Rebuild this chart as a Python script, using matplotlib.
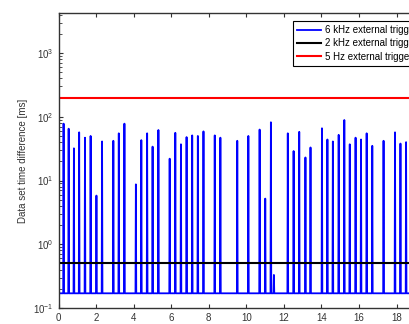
import numpy as np
import matplotlib.pyplot as plt

plt.rcParams['font.family'] = ['Liberation Sans', 'DejaVu Sans']

# spike times [s] and peak heights [ms] of the 6 kHz trace
spike_t = [0.27, 0.54, 0.82, 1.10, 1.41, 1.71, 2.02, 2.32, 2.92, 3.21, 3.51,
           4.12, 4.41, 4.72, 5.01, 5.32, 5.92, 6.22, 6.52, 6.82, 7.12, 7.42,
           7.72, 8.32, 8.62, 9.52, 10.11, 10.71, 11.01, 11.31, 11.47,
           12.21, 12.52, 12.82, 13.15, 13.42, 14.03, 14.32, 14.61, 14.92,
           15.22, 15.51, 15.82, 16.11, 16.41, 16.71, 17.31, 17.92, 18.21, 18.51]
spike_h = [78, 65, 32, 57, 47, 50, 5.8, 41, 42, 55, 78,
           8.7, 43, 55, 34, 62, 22, 56, 37, 48, 51, 50,
           59, 51, 47, 42, 50, 63, 5.2, 82, 0.33,
           55, 29, 58, 23, 33, 66, 44, 41, 52,
           89, 37, 47, 44, 55, 35, 42, 57, 38, 40]
base_6k = 0.17
start_6k = 0.5
level_2k = 0.5
level_5hz = 200.0
t_end = 20

# build the pulse trace from the spikes
t = [0, 0.01]
y = [start_6k, base_6k]
for ts, h in zip(spike_t, spike_h):
    t += [ts - 0.02, ts, ts + 0.02]
    y += [base_6k, h, base_6k]
t.append(t_end)
y.append(base_6k)

fig = plt.figure(figsize=(4.1, 3.24), dpi=100)
ax = fig.add_axes([0.1427, 0.0494, 0.916, 0.9105])

ax.plot(t, y, color='#0000ff', lw=1.3, label='6 kHz external trigger')
ax.plot([0, t_end], [level_2k, level_2k], color='black', lw=1.5,
        label='2 kHz external trigger')
ax.plot([0, t_end], [level_5hz, level_5hz], color='#ff0000', lw=1.5,
        label='5 Hz external trigger')

ax.set_yscale('log')
ax.set_xlim(0, 20)
ax.set_ylim(0.1, 4250)
ax.set_xticks(np.arange(0, 19, 2))
ax.set_ylabel('Data set time difference [ms]', fontsize=7, color='#333333')
ax.tick_params(which='both', direction='in', top=True, right=True,
               labelsize=7, colors='#333333')
ax.tick_params(which='major', length=3)
ax.tick_params(which='minor', length=1.8)
for s in ax.spines.values():
    s.set_color('#333333')
    s.set_linewidth(1.0)

leg = ax.legend(loc='upper left', bbox_to_anchor=(0.7146, 0.935),
                bbox_transform=fig.transFigure, borderaxespad=0,
                fontsize=7, fancybox=False, framealpha=1,
                handlelength=2.5, handletextpad=0.4, labelspacing=0.35)
leg.get_frame().set_edgecolor('black')
leg.get_frame().set_linewidth(0.8)

fig.savefig('out.png', dpi=100)
